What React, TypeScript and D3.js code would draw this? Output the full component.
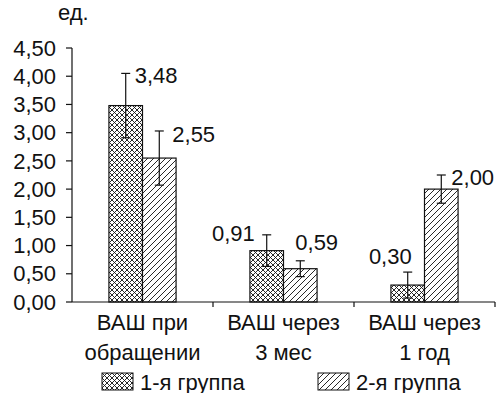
import React from "react";
import * as d3 from "d3";

const categories = [["ВАШ при", "обращении"], ["ВАШ через", "3 мес"], ["ВАШ через", "1 год"]];
const groups = ["1-я группа", "2-я группа"];
const group1 = [3.48, 0.91, 0.30];
const group2 = [2.55, 0.59, 2.00];
const err1 = [0.57, 0.28, 0.23];
const err2 = [0.48, 0.14, 0.25];
const yTicks = [0, 0.5, 1, 1.5, 2, 2.5, 3, 3.5, 4, 4.5];

// where each value label sits relative to the top of its error bar
const labelPlace = [
  [{ dx: 9, dy: 2, anchor: "start" }, { dx: 13, dy: 3, anchor: "start" }],
  [{ dx: -12, dy: -2, anchor: "end" }, { dx: -5, dy: -18, anchor: "start" }],
  [{ dx: 4, dy: -16, anchor: "end" }, { dx: 10, dy: 2, anchor: "start" }],
];

const W = 497;
const H = 393;
const FS = 22;
const font = "'Liberation Sans', Arial, sans-serif";
const fmt = (v: number) => d3.format(".2f")(v).replace(".", ",");

export default function App() {
  const keys = categories.map((c) => c.join(" "));
  const x = d3.scaleBand<string>().domain(keys).range([72, 495]).padding(0);
  const xi = d3.scaleBand<number>().domain([0, 1]).range([0, x.bandwidth()]).paddingInner(0).paddingOuter(1.1);
  const y = d3.scaleLinear().domain([0, 4.5]).range([302, 48]);
  const series = [group1, group2];
  const errs = [err1, err2];
  const fills = ["url(#cross)", "url(#diag)"];

  return (
    <svg width={W} height={H} style={{ position: "absolute", left: 0, top: 0, background: "#fff" }} fontFamily={font}>
      <defs>
        <pattern id="cross" width="5" height="5" patternUnits="userSpaceOnUse">
          <rect width="5" height="5" fill="#fff" />
          <path d="M0,0 L5,5 M5,0 L0,5" stroke="#111" strokeWidth="0.9" />
        </pattern>
        <pattern id="diag" width="6" height="6" patternUnits="userSpaceOnUse">
          <rect width="6" height="6" fill="#fff" />
          <path d="M-1,1 L1,-1 M0,6 L6,0 M5,7 L7,5" stroke="#111" strokeWidth="0.9" />
        </pattern>
      </defs>

      <text x={58} y={12} dy="0.35em" fontSize={FS} fill="#111">ед.</text>

      {/* y axis */}
      <line x1={72} x2={72} y1={y(4.5)} y2={y(0)} stroke="#111" strokeWidth={1.2} />
      {yTicks.map((t) => (
        <g key={t}>
          <line x1={66} x2={72} y1={y(t)} y2={y(t)} stroke="#111" strokeWidth={1.2} />
          <text x={56} y={y(t)} dy="0.35em" textAnchor="end" fontSize={FS} fill="#111">{fmt(t)}</text>
        </g>
      ))}

      {/* bars */}
      {keys.map((k, ci) => (
        <g key={k} transform={`translate(${x(k)},0)`}>
          {series.map((s, si) => {
            const bx = xi(si)!;
            const cx = bx + xi.bandwidth() / 2;
            const top = y(s[ci] + errs[si][ci]);
            const bot = y(s[ci] - errs[si][ci]);
            const lp = labelPlace[ci][si];
            return (
              <g key={si}>
                <rect x={bx} y={y(s[ci])} width={xi.bandwidth()} height={y(0) - y(s[ci])} fill={fills[si]} stroke="#111" strokeWidth={1.2} />
                <line x1={cx} x2={cx} y1={top} y2={bot} stroke="#111" strokeWidth={1.2} />
                <line x1={cx - 4.5} x2={cx + 4.5} y1={top} y2={top} stroke="#111" strokeWidth={1.2} />
                <line x1={cx - 4.5} x2={cx + 4.5} y1={bot} y2={bot} stroke="#111" strokeWidth={1.2} />
                <text x={cx + lp.dx} y={top + lp.dy} dy="0.35em" textAnchor={lp.anchor} fontSize={FS} fill="#111">{fmt(s[ci])}</text>
              </g>
            );
          })}
        </g>
      ))}

      {/* x axis */}
      <line x1={72} x2={495} y1={y(0)} y2={y(0)} stroke="#111" strokeWidth={1.2} />
      {keys.map((k, ci) => (
        <g key={k}>
          <line x1={x(k)! + x.bandwidth()} x2={x(k)! + x.bandwidth()} y1={y(0)} y2={y(0) + 5} stroke="#111" strokeWidth={1.2} />
          {categories[ci].map((line, li) => (
            <text key={li} x={x(k)! + x.bandwidth() / 2} y={322 + li * 30} dy="0.35em" textAnchor="middle" fontSize={FS} fill="#111">{line}</text>
          ))}
        </g>
      ))}

      {/* legend */}
      {groups.map((g, i) => (
        <g key={g} transform={`translate(${102 + i * 216},373)`}>
          <rect width={31} height={17} fill={fills[i]} stroke="#111" strokeWidth={1} />
          <text x={38} y={9} dy="0.35em" fontSize={FS} fill="#111">{g}</text>
        </g>
      ))}
    </svg>
  );
}
